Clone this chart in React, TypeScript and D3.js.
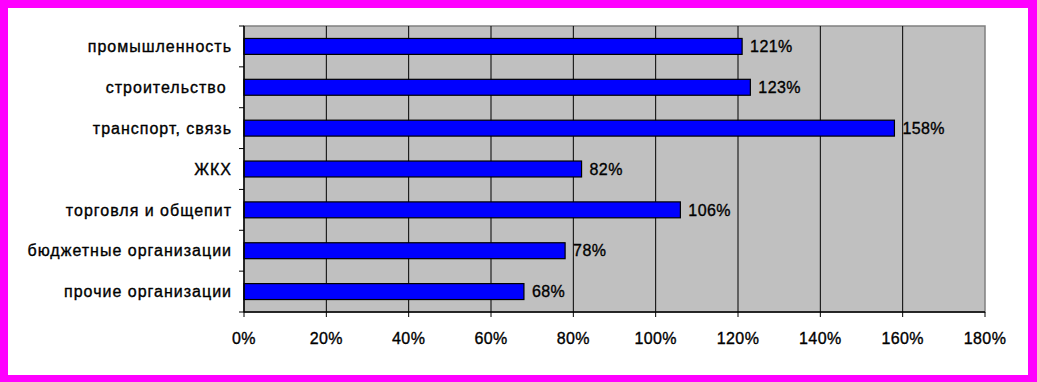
import React from "react";
import * as d3 from "d3";

const categories = [
  "промышленность",
  "строительство ",
  "транспорт, связь",
  "ЖКХ",
  "торговля и общепит",
  "бюджетные организации",
  "прочие организации",
];
const values = [121, 123, 158, 82, 106, 78, 68];
const xTicks = [0, 20, 40, 60, 80, 100, 120, 140, 160, 180];

const W = 1037;
const H = 382;
const plot = { left: 244, right: 985, top: 26, bottom: 312 };
const font = "'Liberation Sans', Arial, sans-serif";
const textStyle = { stroke: "#000", strokeWidth: 0.35, whiteSpace: "pre" as const };

export default function App() {
  const x = d3.scaleLinear().domain([0, 180]).range([plot.left, plot.right]);
  const y = d3
    .scaleBand<string>()
    .domain(categories)
    .range([plot.top, plot.bottom])
    .paddingInner(0.61)
    .paddingOuter(0.305);
  const step = y.step();
  return (
    <svg
      width={W}
      height={H}
      style={{ position: "fixed", left: 0, top: 0 }}
      fontFamily={font}
    >
      <rect x={0} y={0} width={W} height={H} fill="#FF00FF" />
      <rect x={8} y={8} width={1020} height={367} fill="#FFFFFF" />
      <rect
        x={plot.left}
        y={plot.top}
        width={plot.right - plot.left}
        height={plot.bottom - plot.top}
        fill="#C0C0C0"
        stroke="#808080"
        strokeWidth={1.5}
      />
      {xTicks.slice(1, -1).map((t) => (
        <line
          key={"g" + t}
          x1={x(t)}
          x2={x(t)}
          y1={plot.top}
          y2={plot.bottom}
          stroke="#000"
          strokeWidth={1}
        />
      ))}
      {categories.map((c, i) => (
        <rect
          key={"b" + c}
          x={x(0)}
          y={y(c)}
          width={x(values[i]) - x(0)}
          height={y.bandwidth()}
          fill="#0000FF"
          stroke="#000"
          strokeWidth={1.2}
        />
      ))}
      <line x1={plot.left} x2={plot.left} y1={plot.top} y2={plot.bottom} stroke="#000" strokeWidth={1.5} />
      <line x1={plot.left} x2={plot.right} y1={plot.bottom} y2={plot.bottom} stroke="#000" strokeWidth={1.5} />
      {xTicks.map((t) => (
        <g key={"t" + t}>
          <line x1={x(t)} x2={x(t)} y1={plot.bottom} y2={plot.bottom + 5} stroke="#000" strokeWidth={1} />
          <text
            x={x(t)}
            y={344}
            textAnchor="middle"
            fontSize={16}
            letterSpacing={0.4}
            fill="#000"
            style={textStyle}
          >
            {t + "%"}
          </text>
        </g>
      ))}
      {d3.range(categories.length + 1).map((i) => (
        <line
          key={"yt" + i}
          x1={plot.left - 5}
          x2={plot.left}
          y1={plot.top + i * step}
          y2={plot.top + i * step}
          stroke="#000"
          strokeWidth={1}
        />
      ))}
      {categories.map((c) => (
        <text
          key={"l" + c}
          x={232}
          y={(y(c) as number) + y.bandwidth() / 2}
          dy="0.36em"
          textAnchor="end"
          fontSize={16}
          letterSpacing={1}
          fill="#000"
          style={textStyle}
        >
          {c}
        </text>
      ))}
      {categories.map((c, i) => (
        <text
          key={"v" + c}
          x={x(values[i]) + 8}
          y={(y(c) as number) + y.bandwidth() / 2}
          dy="0.36em"
          fontSize={16}
          letterSpacing={0.4}
          fill="#000"
          style={textStyle}
        >
          {values[i] + "%"}
        </text>
      ))}
    </svg>
  );
}
